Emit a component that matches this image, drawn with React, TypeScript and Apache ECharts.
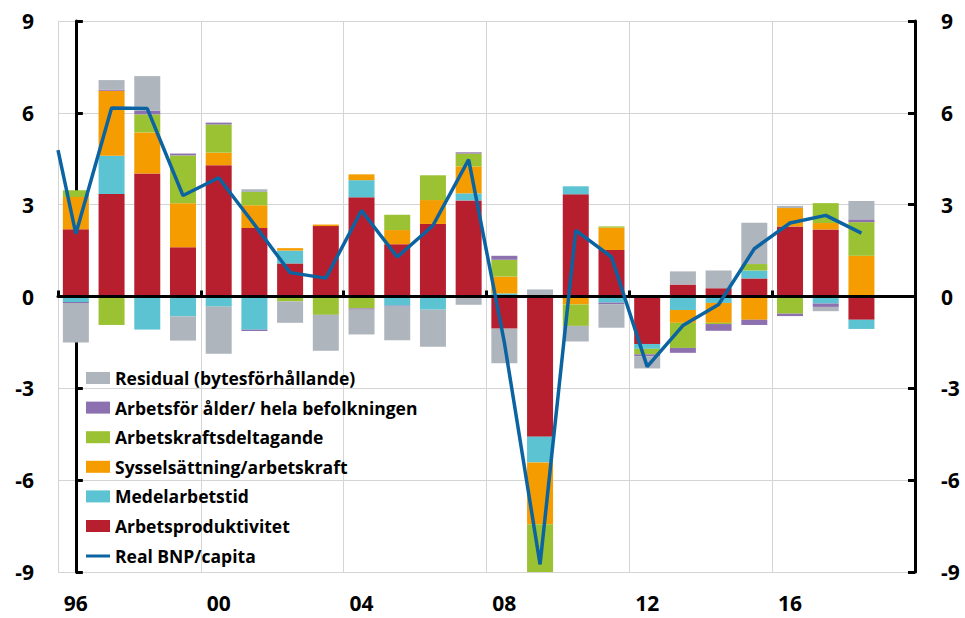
import React, { useEffect, useRef } from "react";
import * as echarts from "echarts";

const categories = [
  "96", "97", "98", "99", "00", "01", "02", "03", "04", "05", "06", "07",
  "08", "09", "10", "11", "12", "13", "14", "15", "16", "17", "18", "19",
];

const yTicks = { min: -9, max: 9, interval: 3 };

const arbetsproduktivitet = [2.2, 3.35, 4.02, 1.61, 4.29, 2.24, 1.08, 2.3, 3.24, 1.71, 2.37, 3.14, -1.05, -4.58, 3.34, 1.52, -1.55, 0.39, 0.27, 0.59, 2.29, 2.19, -0.76, null];
const medelarbetstid = [-0.18, 1.25, -1.08, -0.65, -0.33, -1.09, 0.42, -0.03, 0.56, -0.3, -0.43, 0.23, 0.1, -0.84, 0.26, -0.2, -0.16, -0.44, -0.21, 0.26, 0, -0.23, -0.3, null];
const sysselsattning = [1.05, 2.12, 1.34, 1.44, 0.41, 0.74, 0.08, 0.05, 0.19, 0.46, 0.78, 0.88, 0.55, -2.02, -0.26, 0.73, 0.03, -0.42, -0.65, -0.76, 0.6, 0.21, 1.33, null];
const arbetskraftsdeltagande = [0.22, -0.93, 0.59, 1.56, 0.92, 0.43, -0.16, -0.57, -0.39, 0.5, 0.81, 0.42, 0.55, -1.56, -0.7, 0.04, -0.18, -0.82, -0.04, 0.21, -0.56, 0.65, 1.1, null];
const arbetsforAlder = [-0.03, 0.04, 0.12, 0.06, 0.06, -0.04, 0, 0, -0.04, -0.03, 0, 0.04, 0.13, 0, 0, -0.05, -0.06, -0.16, -0.22, -0.17, -0.08, -0.11, 0.09, null];
const residual = [-1.29, 0.31, 1.13, -0.79, -1.54, 0.09, -0.7, -1.17, -0.81, -1.1, -1.21, -0.27, -1.13, 0.23, -0.51, -0.77, -0.4, 0.43, 0.58, 1.35, 0.07, -0.14, 0.6, null];
const realBnpCapita = [2.05, 6.16, 6.14, 3.3, 3.88, 2.35, 0.78, 0.6, 2.81, 1.29, 2.32, 4.47, -1.5, -8.75, 2.16, 1.29, -2.29, -0.95, -0.26, 1.56, 2.4, 2.65, 2.07];
// value where the line enters at the left edge of the plot
const realBnpCapitaStart = 4.78;

const FONT = "'Open Sans', 'Noto Sans', sans-serif";

const barSeriesDefs = [
  { name: "Arbetsproduktivitet", data: arbetsproduktivitet, color: "#b81f2e" },
  { name: "Medelarbetstid", data: medelarbetstid, color: "#5bc3d1" },
  { name: "Sysselsättning/arbetskraft", data: sysselsattning, color: "#f59c00" },
  { name: "Arbetskraftsdeltagande", data: arbetskraftsdeltagande, color: "#9bc232" },
  { name: "Arbetsför ålder/ hela befolkningen", data: arbetsforAlder, color: "#8d70b0" },
  { name: "Residual (bytesförhållande)", data: residual, color: "#aeb5bd" },
];

const LINE_COLOR = "#0b64a1";

export default function App() {
  const ref = useRef<HTMLDivElement>(null);

  useEffect(() => {
    if (!ref.current) return;
    const chart = echarts.init(ref.current, undefined, { renderer: "svg" });

    const lineData: [number, number][] = [[-0.5, realBnpCapitaStart]];
    realBnpCapita.forEach((v, i) => lineData.push([i, v]));

    const axisLabelStyle = {
      fontFamily: FONT,
      fontWeight: "bold" as const,
      fontSize: 21,
      color: "#000",
    };

    const legendText = {
      fontFamily: FONT,
      fontWeight: "bold",
      fontSize: 17.5,
      lineHeight: 17,
      color: "#000",
    };

    const option: any = {
      animation: false,
      backgroundColor: "#fff",
      grid: { left: 58, right: 50, top: 21, bottom: 46, containLabel: false },
      legend: [
        {
          orient: "vertical",
          left: 86,
          top: 369,
          padding: 0,
          itemWidth: 24,
          itemHeight: 12,
          itemGap: 11.6,
          icon: "rect",
          data: [
            "Residual (bytesförhållande)",
            "Arbetsför ålder/ hela befolkningen",
            "Arbetskraftsdeltagande",
            "Sysselsättning/arbetskraft",
            "Medelarbetstid",
            "Arbetsproduktivitet",
          ],
          textStyle: legendText,
          selectedMode: false,
        },
        {
          orient: "vertical",
          left: 86,
          top: 547,
          padding: 0,
          itemWidth: 24,
          itemHeight: 3,
          icon: "rect",
          data: ["Real BNP/capita"],
          textStyle: legendText,
          selectedMode: false,
        },
      ],
      xAxis: [
        {
          type: "category",
          data: categories,
          position: "bottom",
          boundaryGap: true,
          axisLine: { show: false, onZero: false },
          axisTick: { show: false },
          axisLabel: { ...axisLabelStyle, interval: 3, margin: 20 },
          splitLine: {
            show: true,
            interval: 3,
            lineStyle: { color: "#d4d4d4", width: 1 },
          },
        },
        {
          type: "category",
          data: categories,
          position: "bottom",
          boundaryGap: true,
          z: 4,
          axisLine: { show: true, onZero: true, lineStyle: { color: "#000", width: 3 } },
          axisTick: {
            show: true,
            inside: true,
            interval: 3,
            length: 6,
            lineStyle: { color: "#000", width: 3 },
          },
          axisLabel: { show: false },
          splitLine: { show: false },
        },
        {
          type: "value",
          show: false,
          min: -0.5,
          max: 23.5,
          position: "top",
        },
      ],
      yAxis: [
        {
          type: "value",
          position: "left",
          min: yTicks.min,
          max: yTicks.max,
          interval: yTicks.interval,
          axisLine: { show: true, lineStyle: { color: "#000", width: 3 } },
          axisTick: { show: true, inside: true, length: 7, lineStyle: { color: "#000", width: 3 } },
          axisLabel: { ...axisLabelStyle, margin: 24 },
          splitLine: { show: true, lineStyle: { color: "#d4d4d4", width: 1 } },
        },
        {
          type: "value",
          position: "right",
          min: yTicks.min,
          max: yTicks.max,
          interval: yTicks.interval,
          axisLine: { show: true, lineStyle: { color: "#000", width: 3 } },
          axisTick: { show: true, inside: true, length: 7, lineStyle: { color: "#000", width: 3 } },
          axisLabel: { ...axisLabelStyle, margin: 26 },
          splitLine: { show: false },
        },
      ],
      series: [
        ...barSeriesDefs.map((s) => ({
          name: s.name,
          type: "bar",
          stack: "total",
          xAxisIndex: 0,
          yAxisIndex: 0,
          barWidth: 26,
          data: s.data,
          itemStyle: { color: s.color },
          emphasis: { disabled: true },
        })),
        {
          name: "Real BNP/capita",
          type: "line",
          xAxisIndex: 2,
          yAxisIndex: 0,
          data: lineData,
          symbol: "none",
          z: 6,
          lineStyle: { color: LINE_COLOR, width: 3.5 },
          itemStyle: { color: LINE_COLOR },
          emphasis: { disabled: true },
        },
      ],
    };

    chart.setOption(option);
    return () => chart.dispose();
  }, []);

  return (
    <div
      ref={ref}
      style={{ position: "fixed", left: 0, top: 0, width: 965, height: 618, background: "#fff" }}
    />
  );
}
